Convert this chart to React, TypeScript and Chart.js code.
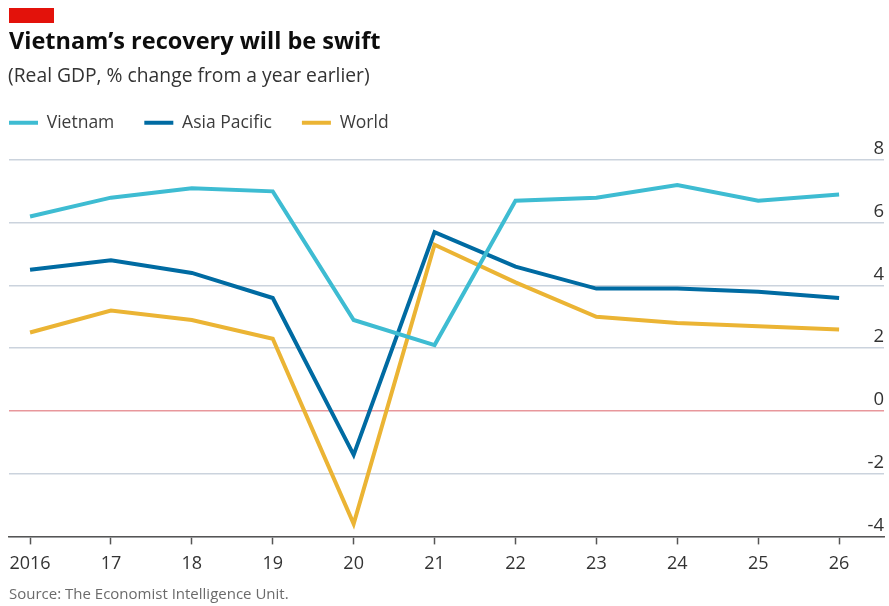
import React, { useEffect, useRef } from 'react';
import { Chart, registerables } from 'chart.js';

Chart.register(...registerables);

const years = [2016, 2017, 2018, 2019, 2020, 2021, 2022, 2023, 2024, 2025, 2026];
const xTickLabels = ['2016', '17', '18', '19', '20', '21', '22', '23', '24', '25', '26'];
const yTickValues = [-4, -2, 0, 2, 4, 6, 8];

const vietnam = [6.2, 6.8, 7.1, 7.0, 2.9, 2.1, 6.7, 6.8, 7.2, 6.7, 6.9];
const asiaPacific = [4.5, 4.8, 4.4, 3.6, -1.4, 5.7, 4.6, 3.9, 3.9, 3.8, 3.6];
const world = [2.5, 3.2, 2.9, 2.3, -3.6, 5.3, 4.1, 3.0, 2.8, 2.7, 2.6];

const seriesNames = ['Vietnam', 'Asia Pacific', 'World'];
const seriesColors = ['#3ebcd2', '#006ba2', '#ebb434'];

const FONT = "'Open Sans', sans-serif";
const LEGEND_PAD = 30;
const LEGEND_FONT = 17.5;

const legendShift = {
  id: 'legendShift',
  afterLayout(chart: any) {
    const lg = chart.legend;
    if (!lg) return;
    const dx = 9 - LEGEND_PAD - lg.left;
    const dy = 114 - LEGEND_PAD - lg.top;
    lg.left += dx;
    lg.right += dx;
    lg.top += dy;
    lg.bottom += dy;
  },
};

export default function App() {
  const ref = useRef<HTMLCanvasElement>(null);

  useEffect(() => {
    const seriesValues = [vietnam, asiaPacific, world];
    const chart = new Chart(ref.current as HTMLCanvasElement, {
      type: 'line',
      data: {
        datasets: seriesNames.map((name, i) => ({
          label: name,
          data: years.map((yr, j) => ({ x: yr, y: seriesValues[i][j] })),
          borderColor: seriesColors[i],
          backgroundColor: seriesColors[i],
          borderWidth: 4,
          pointRadius: 0,
          tension: 0,
          fill: false,
          borderJoinStyle: 'miter',
          borderCapStyle: 'butt',
        })),
      },
      options: {
        responsive: false,
        animation: false,
        layout: { padding: { left: 9, right: 5, top: 160 - (LEGEND_FONT + LEGEND_PAD + 10), bottom: 22 } },
        plugins: {
          legend: {
            display: true,
            position: 'top',
            align: 'start',
            labels: {
              boxWidth: 29,
              boxHeight: 4,
              padding: LEGEND_PAD,
              font: { family: FONT, size: LEGEND_FONT },
              color: '#3c3c3c',
              generateLabels: (c: any) =>
                c.data.datasets.map((ds: any, i: number) => ({
                  text: ds.label,
                  fillStyle: ds.borderColor,
                  strokeStyle: ds.borderColor,
                  lineWidth: 0,
                  hidden: false,
                  datasetIndex: i,
                  fontColor: '#3c3c3c',
                })),
            },
          },
          tooltip: { enabled: false },
        },
        scales: {
          x: {
            type: 'linear',
            min: 2015.74,
            max: 2026.555,
            afterBuildTicks: (axis: any) => {
              axis.ticks = years.map((v) => ({ value: v }));
            },
            grid: {
              display: true,
              drawOnChartArea: false,
              drawTicks: true,
              tickLength: 8,
              tickColor: '#555555',
              tickWidth: 1.5,
            },
            border: { display: true, color: '#555555', width: 1.5 },
            ticks: {
              autoSkip: false,
              maxRotation: 0,
              padding: 9,
              color: '#333333',
              font: { family: FONT, size: 18 },
              callback: (v: any) => xTickLabels[years.indexOf(Number(v))] ?? '',
            },
          },
          y: {
            type: 'linear',
            position: 'right',
            min: -4,
            max: 8,
            afterBuildTicks: (axis: any) => {
              axis.ticks = yTickValues.map((v) => ({ value: v }));
            },
            grid: {
              color: (c: any) => (c.tick && c.tick.value === 0 ? '#e8979c' : '#cbd3dd'),
              lineWidth: 1.5,
              drawTicks: false,
            },
            border: { display: false },
            ticks: {
              mirror: true,
              padding: 0,
              labelOffset: -11,
              color: '#333333',
              font: { family: FONT, size: 18.5 },
            },
          },
        },
      },
      plugins: [legendShift],
    } as any);
    return () => chart.destroy();
  }, []);

  return (
    <div style={{ position: 'absolute', left: 0, top: 0, width: 889, height: 606, background: '#ffffff', overflow: 'hidden' }}>
      <canvas ref={ref} width={889} height={606} style={{ position: 'absolute', left: 0, top: 0 }} />
      <div style={{ position: 'absolute', left: 9, top: 8, width: 45, height: 15, background: '#e3120b' }} />
      <div
        style={{
          position: 'absolute', left: 9, top: 29, fontFamily: FONT, fontWeight: 700, fontSize: 23.5,
          lineHeight: 1, color: '#0d0d0d', whiteSpace: 'nowrap',
        }}
      >
        Vietnam’s recovery will be swift
      </div>
      <div
        style={{
          position: 'absolute', left: 8, top: 65, fontFamily: FONT, fontSize: 19.3,
          lineHeight: 1, color: '#333333', whiteSpace: 'nowrap',
        }}
      >
        (Real GDP, % change from a year earlier)
      </div>
      <div
        style={{
          position: 'absolute', left: 9, top: 586, fontFamily: FONT, fontSize: 15,
          lineHeight: 1, color: '#6b6b6b', whiteSpace: 'nowrap',
        }}
      >
        Source: The Economist Intelligence Unit.
      </div>
    </div>
  );
}
